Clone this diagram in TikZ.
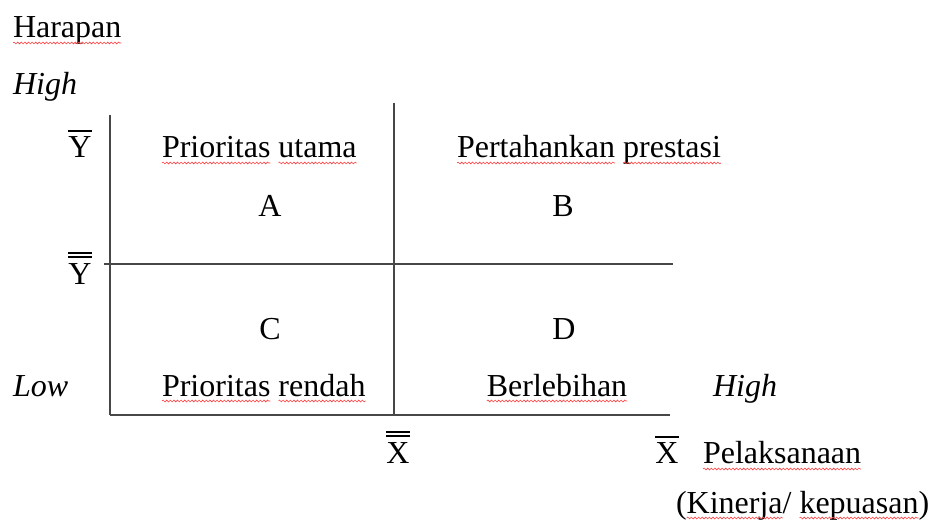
\documentclass[tikz,border=0pt]{standalone}
\usepackage{fontspec}
\setmainfont{Liberation Serif}
\usetikzlibrary{decorations.pathmorphing}
\newcommand\barone[1]{\vbox{\hrule height1.6pt\kern5pt\hbox{#1}}}
\newcommand\bartwo[1]{\vbox{\hrule height1.6pt\kern2.4pt\hrule height1.6pt\kern6.5pt\hbox{#1}}}
\begin{document}
\begin{tikzpicture}[x=1pt,y=-1pt,
  lbl/.style={inner sep=0pt,outer sep=0pt,font=\fontsize{32}{38}\selectfont},
  axis/.style={line width=2pt,draw=black!72},
  squig/.style={draw=red!75,line width=0.6pt,decorate,
    decoration={snake,amplitude=0.9pt,segment length=3.6pt}}]
\useasboundingbox (0,0) rectangle (935,529);
% lines
\coordinate (lt) at (110,115);
\coordinate (lb) at (110,415);
\coordinate (mt) at (394,103);
\coordinate (mb) at (394,415);
\coordinate (hl) at (104,264);
\coordinate (hr) at (673,264);
\coordinate (br) at (670,415);
\draw[axis] (lt) -- (lb);
\draw[axis] (mt) -- (mb);
\draw[axis] (hl) -- (hr);
\draw[axis] (lb) -- (br);
% texts
\node[lbl,anchor=base west] (harapan) at (13,38) {Harapan};
\node[lbl,anchor=base west] (hightop) at (13,95) {\itshape High};
\node[lbl,anchor=base] (ybar) at (80,158) {\barone{Y}};
\node[lbl,anchor=base west] (pu1) at (162,158) {Prioritas};
\node[lbl,anchor=base west] (pu2) at ([xshift=8pt]pu1.base east) {utama};
\node[lbl,anchor=base west] (pp1) at (457,158) {Pertahankan};
\node[lbl,anchor=base west] (pp2) at ([xshift=8pt]pp1.base east) {prestasi};
\node[lbl,anchor=base] (A) at (270,217) {A};
\node[lbl,anchor=base] (B) at (563,217) {B};
\node[lbl,anchor=base] (ybb) at (80,285) {\bartwo{Y}};
\node[lbl,anchor=base] (C) at (270,340) {C};
\node[lbl,anchor=base] (D) at (564,340) {D};
\node[lbl,anchor=base west] (low) at (13,396) {\itshape Low};
\node[lbl,anchor=base west] (pr1) at (162,396) {Prioritas};
\node[lbl,anchor=base west] (pr2) at ([xshift=8pt]pr1.base east) {rendah};
\node[lbl,anchor=base] (bl) at (557,396) {Berlebihan};
\node[lbl,anchor=base west] (highr) at (713,396) {\itshape High};
\node[lbl,anchor=base] (xbb) at (398,464) {\bartwo{X}};
\node[lbl,anchor=base] (xbar) at (667,464) {\barone{X}};
\node[lbl,anchor=base west] (pel) at (703,464) {Pelaksanaan};
\node[lbl,anchor=base west] (k0) at (676,513) {(};
\node[lbl,anchor=base west] (k1) at (k0.base east) {Kinerja};
\node[lbl,anchor=base west] (k2) at (k1.base east) {/};
\node[lbl,anchor=base west] (k3) at ([xshift=8pt]k2.base east) {kepuasan};
\node[lbl,anchor=base west] (k4) at (k3.base east) {)};
% spell-check underlines
\foreach \w in {harapan,pu1,pu2,pp1,pp2,pr1,pr2,bl,pel,k1,k3}
  \draw[squig] ([yshift=-5pt]\w.base west) -- ([yshift=-5pt]\w.base east);
\end{tikzpicture}
\end{document}
